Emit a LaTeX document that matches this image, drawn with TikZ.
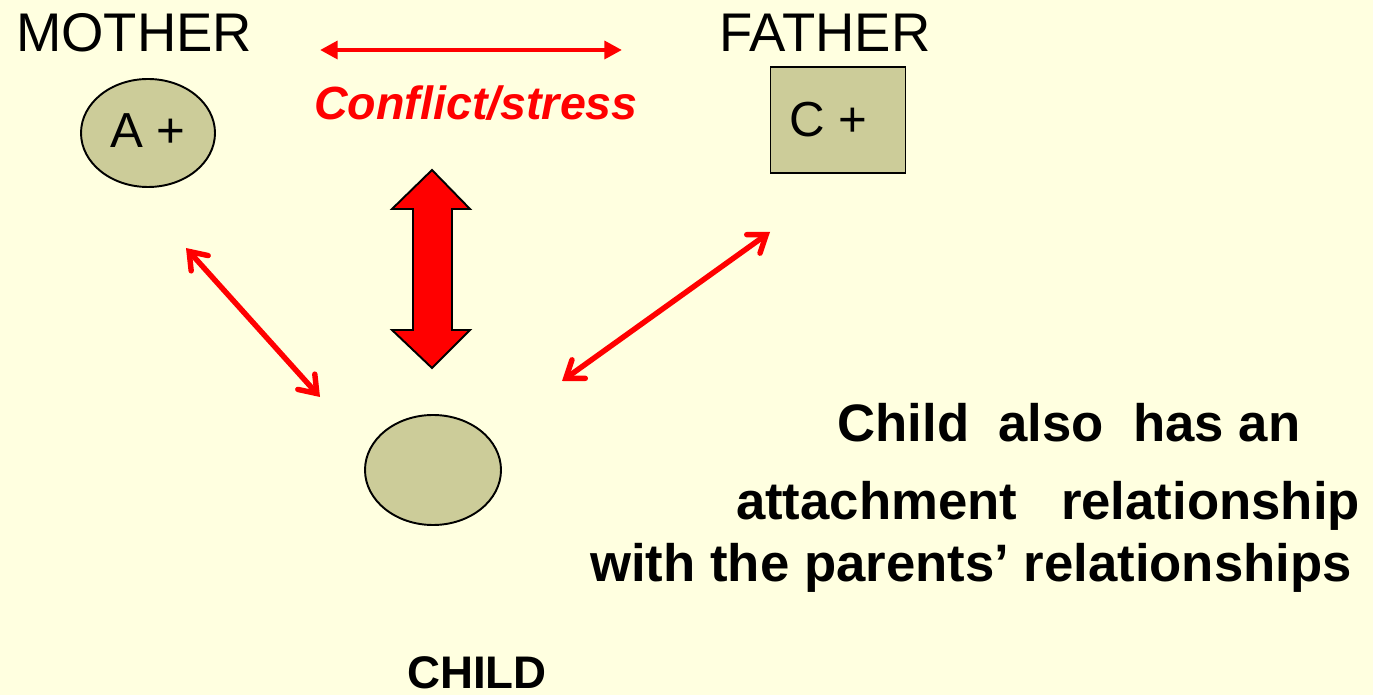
\documentclass[tikz,border=0pt]{standalone}
\usepackage{fontspec}
\setmainfont{Liberation Sans}
\usepackage{tikz}
\usetikzlibrary{shapes.geometric, arrows.meta}
\definecolor{paper}{RGB}{255, 255, 224}
\definecolor{olive}{RGB}{204, 204, 153}
\definecolor{strong}{RGB}{255, 0, 0}
\newcommand{\fsz}[1]{\fontsize{#1}{#1}\selectfont}

\begin{document}
\begin{tikzpicture}[x=0.02cm, y=-0.02cm, thick,
  person/.style={draw=black, line width=1.1pt, fill=olive, inner sep=0pt},
  tie/.style={draw=strong, line width=3.1pt, line cap=round,
    {Straight Barb[length=9pt, width=13pt, line cap=round]}-{Straight Barb[length=9pt, width=13pt, line cap=round]}},
  label/.style={anchor=base, inner sep=0pt}]

  \fill[paper] (0, 0) rectangle (1373, 695);
  \useasboundingbox (0, 0) rectangle (1373, 695);

  % parents and child
  \node[person, ellipse, minimum width=134*0.02cm, minimum height=108*0.02cm]
    (mother) at (148, 133) {\fsz{28}\raisebox{3pt}{A +}};
  \node[person, rectangle, minimum width=135*0.02cm, minimum height=106*0.02cm]
    (father) at (838, 120) {\fsz{28}C +\hspace*{11pt}};
  \node[person, ellipse, minimum width=136*0.02cm, minimum height=110*0.02cm]
    (child) at (433, 470) {};

  \node[label] (mothername) at (134, 52) {\fsz{31}MOTHER};
  \node[label] (fathername) at (825, 52) {\fsz{31}FATHER};
  \node[label] (childname) at (477, 688) {\fsz{26}\bfseries CHILD};

  \node[label, text=strong] (conflict) at (476, 120)
    {\fsz{26.5}\bfseries\itshape Conflict/stress};

  \node[label] (line1) at (1069, 442) {\fsz{30}\bfseries Child\ \ also\ \ has an};
  \node[label] (line2) at (1048, 520) {\fsz{30}\bfseries attachment\ \ \ relationship};
  \node[label] (line3) at (971, 582) {\fsz{30}\bfseries with the parents’ relationships};

  % arrow ends
  \coordinate (cl) at (320, 50);
  \coordinate (cr) at (622, 50);
  \coordinate (ma) at (186, 248);
  \coordinate (mb) at (320, 397);
  \coordinate (fa) at (770, 232);
  \coordinate (fb) at (562, 381);

  \draw[strong, line width=2.8pt, {Triangle[length=10pt, width=10pt]}-{Triangle[length=10pt, width=10pt]}]
    (cl) -- (cr);
  \draw[tie] (ma) -- (mb);
  \draw[tie] (fa) -- (fb);

  % block arrow
  \filldraw[fill=strong, draw=black, line width=1.1pt]
    (432, 170) -- (470, 209) -- (452, 209) -- (452, 330) -- (470, 330)
    -- (432, 368) -- (392, 330) -- (413, 330) -- (413, 209) -- (392, 209) -- cycle;

\end{tikzpicture}
\end{document}
